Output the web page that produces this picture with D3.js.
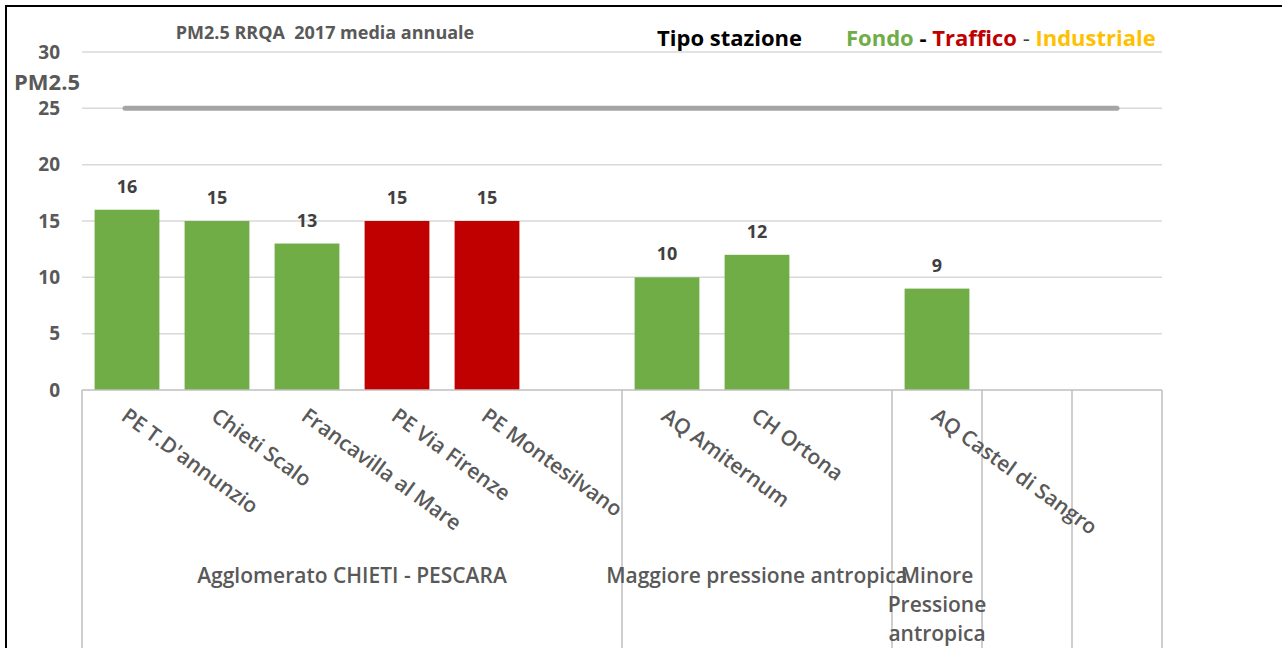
<!DOCTYPE html>
<html>
<head>
<meta charset="utf-8">
<script src="https://cdn.jsdelivr.net/npm/d3@7"></script>
<style>
  body { margin: 0; background: #fff; }
  svg { font-family: "Open Sans", sans-serif; }
</style>
</head>
<body>
<div id="chart"></div>
<script>
// Chart data
const stations = ["PE T.D'annunzio", "Chieti Scalo", "Francavilla al Mare", "PE Via Firenze", "PE Montesilvano", "",
                  "AQ Amiternum", "CH Ortona", "", "AQ Castel di Sangro", "", ""];
const pm25 = [16, 15, 13, 15, 15, null, 10, 12, null, 9, null, null];
const stationType = ["Fondo", "Fondo", "Fondo", "Traffico", "Traffico", null,
                     "Fondo", "Fondo", null, "Fondo", null, null];
const groupNames = [["Agglomerato CHIETI - PESCARA"], ["Maggiore pressione antropica"], ["Minore", "Pressione", "antropica"], [""], [""]];
const groupStart = [0, 6, 9, 10, 11];
const groupEnd = [6, 9, 10, 11, 12];
const yTicks = [0, 5, 10, 15, 20, 25, 30];
const limitValue = 25;

const width = 1282, height = 648;
const padding = {top: 52, right: 120, bottom: 258, left: 82};

const typeColor = {Fondo: "#70AD47", Traffico: "#C00000", Industriale: "#FFC000"};

const svg = d3.select("#chart")
    .append("svg")
    .attr("width", width)
    .attr("height", height);

// Frame lines (top and left)
svg.append("line").attr("x1", 5).attr("x2", width).attr("y1", 6).attr("y2", 6)
    .attr("stroke", "#000").attr("stroke-width", 2);
svg.append("line").attr("x1", 6).attr("x2", 6).attr("y1", 5).attr("y2", height)
    .attr("stroke", "#000").attr("stroke-width", 2);

const xScale = d3.scaleBand()
    .domain(d3.range(stations.length))
    .range([padding.left, 1162])
    .paddingInner(0.28)
    .paddingOuter(0.14);

const yScale = d3.scaleLinear()
    .domain([0, 30])
    .range([390, padding.top]);

// Gridlines
svg.append("g")
    .selectAll("line")
    .data(yTicks.filter(d => d > 0))
    .enter()
        .append("line")
        .attr("x1", padding.left)
        .attr("x2", 1162)
        .attr("y1", d => yScale(d))
        .attr("y2", d => yScale(d))
        .attr("stroke", "#d9d9d9")
        .attr("stroke-width", 1.5);

// Y axis labels
const yAxis = d3.axisLeft(yScale).tickValues(yTicks).tickSize(0).tickPadding(0);
const yg = svg.append("g")
    .attr("transform", "translate(60,0)")
    .call(yAxis);
yg.select(".domain").remove();
yg.selectAll("text")
    .attr("fill", "#595959")
    .style("font-family", "'Open Sans', sans-serif")
    .style("font-size", "19px")
    .style("font-weight", "bold");

svg.append("text")
    .attr("x", 14)
    .attr("y", 90)
    .attr("fill", "#595959")
    .style("font-size", "22px")
    .style("font-weight", "bold")
    .text("PM2.5");

// Limit line
const step = xScale.step();
svg.append("line")
    .attr("x1", 125)
    .attr("x2", 1117)
    .attr("y1", yScale(limitValue))
    .attr("y2", yScale(limitValue))
    .attr("stroke", "#a5a5a5")
    .attr("stroke-width", 5)
    .attr("stroke-linecap", "round");

// Bars
const barData = stations.map((s, i) => ({i: i, name: s, value: pm25[i], type: stationType[i]}))
    .filter(d => d.value !== null);

svg.selectAll(".bar")
    .data(barData)
    .enter()
        .append("rect")
        .attr("class", "bar")
        .attr("x", d => xScale(d.i))
        .attr("y", d => yScale(d.value))
        .attr("width", xScale.bandwidth())
        .attr("height", d => yScale(0) - yScale(d.value))
        .attr("fill", d => typeColor[d.type]);

svg.selectAll(".vlabel")
    .data(barData)
    .enter()
        .append("text")
        .attr("class", "vlabel")
        .attr("x", d => xScale(d.i) + xScale.bandwidth() / 2)
        .attr("y", d => yScale(d.value) - 17)
        .attr("text-anchor", "middle")
        .attr("fill", "#404040")
        .style("font-size", "18px")
        .style("font-weight", "bold")
        .text(d => d.value);

// Category axis line and group separators
svg.append("line")
    .attr("x1", padding.left).attr("x2", 1162)
    .attr("y1", 390).attr("y2", 390)
    .attr("stroke", "#bfbfbf").attr("stroke-width", 1.5);

const sepIdx = [0].concat(groupEnd);
svg.append("g")
    .selectAll("line")
    .data(sepIdx)
    .enter()
        .append("line")
        .attr("x1", d => padding.left + d * step)
        .attr("x2", d => padding.left + d * step)
        .attr("y1", 390)
        .attr("y2", height)
        .attr("stroke", "#bfbfbf")
        .attr("stroke-width", 1.5);

// Station labels (rotated)
svg.selectAll(".clabel")
    .data(stations.map((s, i) => ({i: i, name: s})).filter(d => d.name !== ""))
    .enter()
        .append("text")
        .attr("class", "clabel")
        .attr("transform", d => "translate(" + (xScale(d.i) + xScale.bandwidth() / 2 - 7) + ",419) rotate(36)")
        .attr("fill", "#595959")
        .style("font-size", "21px")
        .style("font-weight", "600")
        .text(d => d.name);

// Group labels
groupNames.forEach((lines, g) => {
    const cx = padding.left + (groupStart[g] + groupEnd[g]) / 2 * step;
    const t = svg.append("text")
        .attr("x", cx)
        .attr("y", 583)
        .attr("text-anchor", "middle")
        .attr("fill", "#595959")
        .style("font-size", "21px")
        .style("font-weight", "600");
    lines.forEach((l, k) => {
        t.append("tspan").attr("x", cx).attr("dy", k === 0 ? 0 : 29).text(l);
    });
});

// Title
svg.append("text")
    .attr("x", 325)
    .attr("y", 39)
    .attr("text-anchor", "middle")
    .attr("fill", "#595959")
    .style("font-size", "18px")
    .style("font-weight", "bold")
    .style("white-space", "pre")
    .text("PM2.5 RRQA  2017 media annuale");

// Legend
svg.append("text")
    .attr("x", 657)
    .attr("y", 46)
    .attr("fill", "#000")
    .style("font-size", "22px")
    .style("font-weight", "bold")
    .text("Tipo stazione");

const legend = svg.append("text")
    .attr("x", 846)
    .attr("y", 46)
    .style("font-size", "22px")
    .style("font-weight", "bold")
    .style("white-space", "pre");
legend.append("tspan").attr("fill", typeColor.Fondo).text("Fondo");
legend.append("tspan").attr("fill", "#000").text(" - ");
legend.append("tspan").attr("fill", typeColor.Traffico).text("Traffico");
legend.append("tspan").attr("fill", "#404040").style("font-weight", "normal").text(" - ");
legend.append("tspan").attr("fill", typeColor.Industriale).text("Industriale");
</script>
</body>
</html>
